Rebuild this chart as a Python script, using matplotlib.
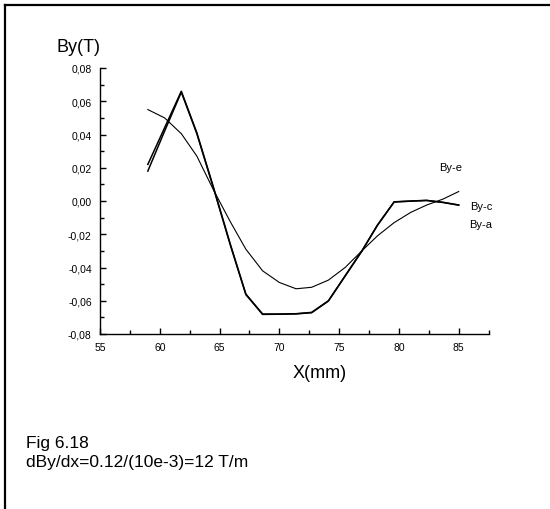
import matplotlib
matplotlib.use("Agg")
import matplotlib.pyplot as plt
from matplotlib.ticker import MultipleLocator, FuncFormatter
from matplotlib.lines import Line2D

plt.rcParams['font.family'] = ['Liberation Sans', 'DejaVu Sans']

# positions along X (mm)
x_mm = [59.0, 60.4, 61.8, 63.1, 64.5, 65.9, 67.2, 68.6, 70.0, 71.4,
        72.7, 74.1, 75.5, 76.9, 78.2, 79.6, 81.0, 82.3, 83.7, 85.0]

# By (T) for each probe line
by_e = [0.022, 0.044, 0.066, 0.041, 0.008, -0.026, -0.056, -0.068, -0.068, -0.0678,
        -0.067, -0.060, -0.045, -0.030, -0.0145, -0.0005, 0.0, 0.0004, -0.0008, -0.0024]
by_c = [0.018, 0.042, 0.0655, 0.0405, 0.0075, -0.0265, -0.0563, -0.0682, -0.0681, -0.0679,
        -0.0672, -0.0602, -0.0452, -0.0302, -0.0147, -0.0006, -0.0001, 0.0003, -0.0009, -0.0025]
by_a = [0.055, 0.050, 0.0405, 0.027, 0.0065, -0.0125, -0.029, -0.042, -0.049, -0.0528,
        -0.0519, -0.0476, -0.040, -0.030, -0.021, -0.013, -0.0068, -0.0025, 0.0012, 0.0057]

fig = plt.figure(figsize=(5.5, 5.1), dpi=100)
ax = fig.add_axes([100 / 550, 1 - 335 / 510, 388.6 / 550, 266 / 510])

ax.plot(x_mm, by_e, color='black', linewidth=1.1)
ax.plot(x_mm, by_c, color='black', linewidth=1.1)
ax.plot(x_mm, by_a, color='black', linewidth=0.8)

ax.set_xlim(55, 87.5)
ax.set_ylim(-0.08, 0.08)

ax.xaxis.set_major_locator(MultipleLocator(5))
ax.xaxis.set_minor_locator(MultipleLocator(2.5))
ax.yaxis.set_major_locator(MultipleLocator(0.02))
ax.yaxis.set_minor_locator(MultipleLocator(0.01))
ax.yaxis.set_major_formatter(FuncFormatter(lambda v, p: f"{v:.2f}".replace('.', ',').replace('-0,00', '0,00')))
ax.xaxis.set_major_formatter(FuncFormatter(lambda v, p: f"{v:.0f}"))

for s in ['top', 'right']:
    ax.spines[s].set_visible(False)
for s in ['left', 'bottom']:
    ax.spines[s].set_linewidth(1.0)

ax.tick_params(which='major', direction='in', length=4.5, width=1.0, labelsize=7.5, pad=6)
ax.tick_params(which='minor', direction='in', length=3, width=1.0)
ax.set_facecolor('none')

# curve labels
fig.text(451 / 550, 1 - 168 / 510, 'By-e', fontsize=8, ha='center', va='center')
fig.text(481 / 550, 1 - 207 / 510, 'By-c', fontsize=8, ha='center', va='center')
fig.text(481 / 550, 1 - 225.5 / 510, 'By-a', fontsize=8, ha='center', va='center')

fig.text(56 / 550, 1 - 52 / 510, 'By(T)', fontsize=13, ha='left', va='baseline')
fig.text(320 / 550, 1 - 378 / 510, 'X(mm)', fontsize=13, ha='center', va='baseline')
fig.text(26 / 550, 1 - 448 / 510, 'Fig 6.18', fontsize=12.5, ha='left', va='baseline')
fig.text(26 / 550, 1 - 467 / 510, 'dBy/dx=0.12/(10e-3)=12 T/m', fontsize=12.5, ha='left', va='baseline')

# frame around the figure (top and left edges visible)
fig.add_artist(Line2D([5 / 550, 5 / 550], [0, 1 - 5.5 / 510], color='black', linewidth=1.6))
fig.add_artist(Line2D([5 / 550, 1], [1 - 5.5 / 510, 1 - 5.5 / 510], color='black', linewidth=1.6))

fig.savefig('out.png', dpi=100, facecolor='white')
